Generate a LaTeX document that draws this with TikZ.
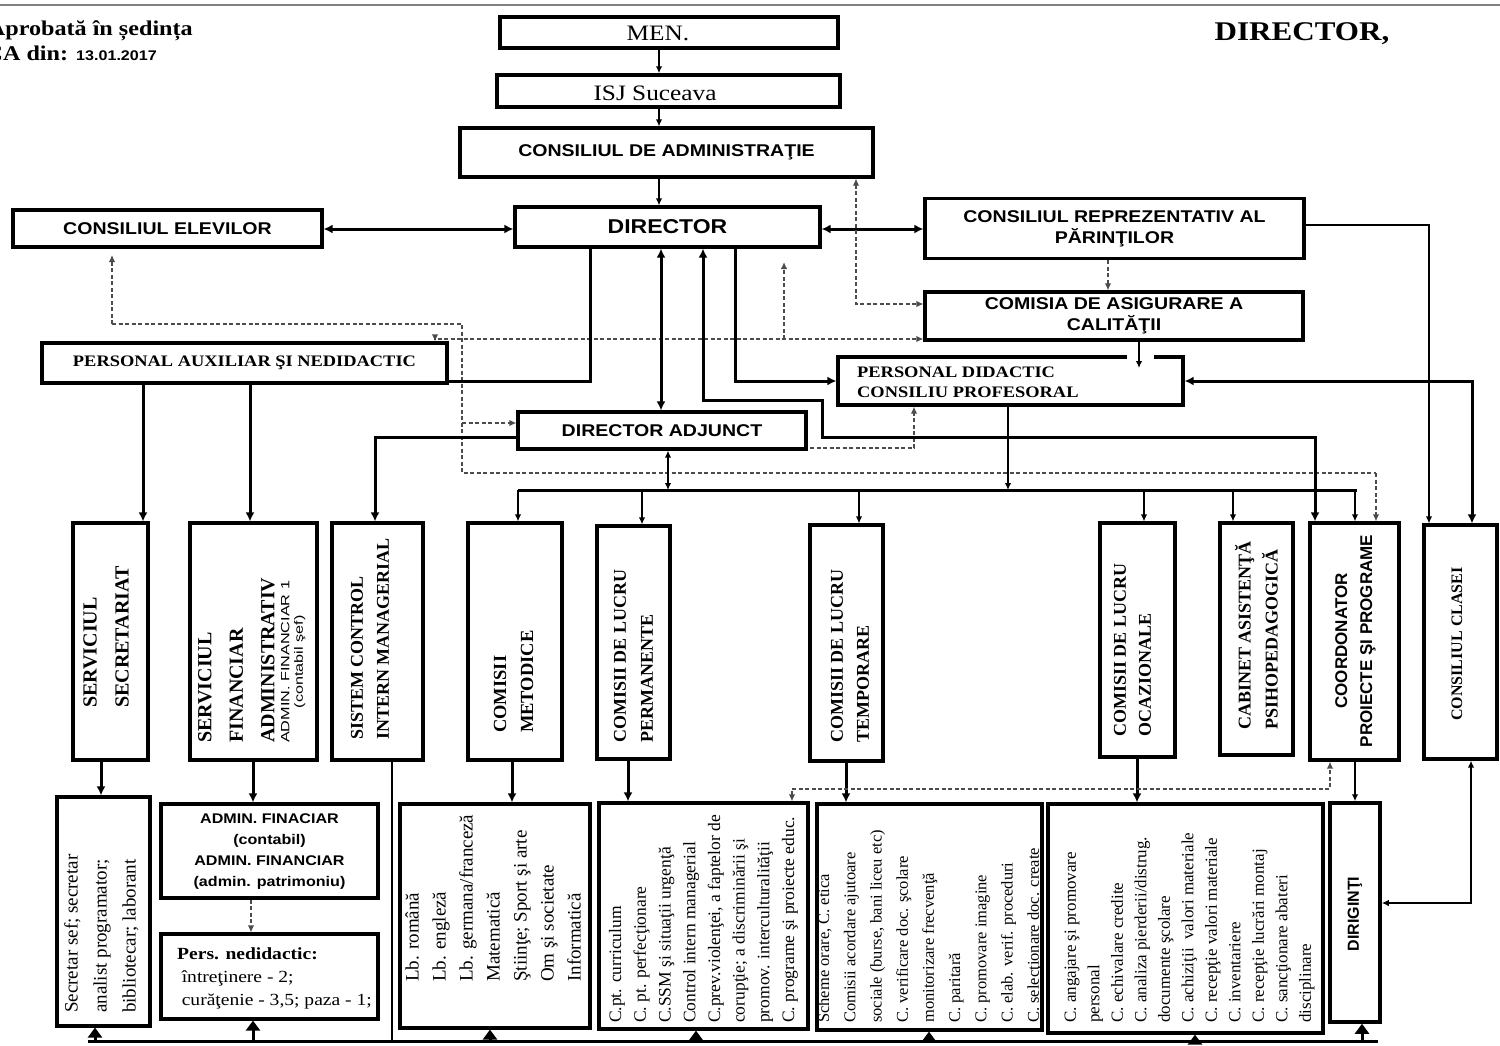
\documentclass[tikz,border=0pt]{standalone}
\usepackage{fontspec}
\setmainfont{Liberation Serif}
\setsansfont{Liberation Sans}
\usepackage{graphicx}
\usetikzlibrary{arrows.meta}
\newcommand\fs[2]{\fontsize{#1}{#2}\selectfont}
\newcommand\hs[2][c]{\scalebox{1.15}[1]{\begin{tabular}{@{}#1@{}}#2\end{tabular}}}
\newcommand\hsone[1]{\scalebox{1.15}[1]{#1}}
\tikzset{
 box/.style={draw, line width=3.2pt, inner sep=0pt, align=center},
 rot/.style={rotate=90, inner sep=0pt, align=left},
 thn/.style={line width=1.5pt, >={Latex[length=7pt,width=6.5pt]}},
 thk/.style={line width=3pt, >={Latex[length=9pt,width=9pt]}},
 dsh/.style={line width=1.5pt, black!70, dash pattern=on 4pt off 2.5pt, >={Latex[length=7pt,width=6.5pt]}},
 busline/.style={line width=3pt},
 uptri/.style={line width=3pt, -{Triangle[length=10pt,width=14pt]}},
 sb/.style={font=\sffamily\bfseries\fs{#1}{20}},
}
\begin{document}
\begin{tikzpicture}[x=1pt,y=-1pt]
\useasboundingbox (0,0) rectangle (1500,1045);
\fill[white] (0,0) rectangle (1500,1045);
\draw[gray, line width=2pt] (0,5) -- (1500,5);

% header texts
\node[anchor=base east, inner sep=0pt, font=\bfseries\fs{21}{24}] (apr) at (193,35) {\hsone{Aprobată în ședința}};
\node[anchor=base east, inner sep=0pt, font=\bfseries\fs{21}{24}] (cadin) at (157,60) {\hsone{CA din: {\sffamily\fs{14}{16}13.01.2017}}};
\node[inner sep=0pt, font=\bfseries\fs{27}{30}] (dirsig) at (1302,34) {\hsone{DIRECTOR,}};

% top chain
\node[box, line width=3.5pt, minimum width=338pt, minimum height=31pt] (men) at (669,32.5) {};
\node[inner sep=0pt, font=\fs{22}{24}] (mentxt) at (658,33) {\hsone{MEN.}};
\node[box, line width=3.5pt, minimum width=343pt, minimum height=32pt] (isj) at (668.5,91) {};
\node[inner sep=0pt, font=\fs{22}{24}] (isjtxt) at (655,93) {\hsone{ISJ Suceava}};
\node[box, minimum width=413pt, minimum height=49pt, sb=17] (ca) at (666.5,152.5) {\hsone{CONSILIUL DE ADMINISTRAŢIE}};
\node[box, minimum width=305pt, minimum height=40pt, sb=20] (dir) at (667.5,227) {\hsone{DIRECTOR}};
\node[box, minimum width=309pt, minimum height=37pt, sb=17] (ce) at (167.5,228.5) {\hsone{CONSILIUL ELEVILOR}};
\node[box, minimum width=379pt, minimum height=60pt, sb=17] (cr) at (1114.5,228.5) {\hs{CONSILIUL REPREZENTATIV AL\\PĂRINŢILOR}};
\node[box, minimum width=378pt, minimum height=48pt, font=\sffamily\bfseries\fs{17}{19}] (cac) at (1114,316) {\hs{COMISIA DE ASIGURARE A\\CALITĂŢII}};
\node[box, minimum width=405pt, minimum height=40pt, font=\bfseries\fs{16}{18}] (pan) at (244.5,363) {\hsone{PERSONAL AUXILIAR ŞI NEDIDACTIC}};
\node[box, minimum width=345pt, minimum height=48pt] (pd) at (1010.5,381) {};
\fill[white] (1127,351) rectangle (1154,361);
\node[anchor=west, inner sep=0pt, font=\bfseries\fs{16}{20}] (pdtxt) at (857,383) {\hs[l]{PERSONAL DIDACTIC\\CONSILIU PROFESORAL}};
\node[box, minimum width=288pt, minimum height=37pt, sb=17] (da) at (662,430.5) {\hsone{DIRECTOR ADJUNCT}};

% vertical boxes
\node[box, minimum width=75pt, minimum height=237pt] (ss) at (110.5,641.5) {};
\node[box, minimum width=127pt, minimum height=237pt] (sfa) at (253.5,641.5) {};
\node[box, minimum width=91pt, minimum height=237pt] (scim) at (377.5,641.5) {};
\node[box, minimum width=94pt, minimum height=237pt] (cm) at (515,641.5) {};
\node[box, minimum width=73pt, minimum height=233pt] (clp) at (633.5,642.5) {};
\node[box, minimum width=73pt, minimum height=236pt] (clt) at (846.5,643) {};
\node[box, minimum width=75pt, minimum height=234pt] (clo) at (1137.5,640) {};
\node[box, minimum width=73pt, minimum height=232pt] (cap) at (1256.5,639) {};
\node[box, minimum width=89pt, minimum height=237pt] (coord) at (1354.5,641.5) {};
\node[box, minimum width=73pt, minimum height=234pt] (cc) at (1460.5,642) {};

\node[rot, anchor=west, font=\bfseries\fs{20}{32}] (sstxt) at (106,708) {SERVICIUL\\SECRETARIAT};
\node[rot, anchor=west, font=\bfseries\fs{20}{31.5}] (sfatxt) at (236.5,743) {SERVICIUL\\FINANCIAR\\ADMINISTRATIV};
\node[rot, anchor=west, font=\sffamily\fs{12}{13.5}] (sfatxtb) at (293.5,743) {\scalebox{1.35}[1]{\begin{tabular}{@{}c@{}}ADMIN. FINANCIAR 1\\(contabil şef)\end{tabular}}};
\node[rot, anchor=west, font=\bfseries\fs{18}{26}] (scimtxt) at (370,740) {SISTEM CONTROL\\INTERN MANAGERIAL};
\node[rot, anchor=west, font=\bfseries\fs{18.5}{27}] (cmtxt) at (513.5,733) {COMISII\\METODICE};
\node[rot, anchor=west, font=\bfseries\fs{18}{27}] (clptxt) at (633.5,743) {COMISII DE LUCRU\\PERMANENTE};
\node[rot, anchor=west, font=\bfseries\fs{18}{26}] (clttxt) at (850,743) {COMISII DE LUCRU\\TEMPORARE};
\node[rot, anchor=west, font=\bfseries\fs{18}{25}] (clotxt) at (1132.5,737) {COMISII DE LUCRU\\OCAZIONALE};
\node[rot, anchor=west, font=\bfseries\fs{18}{27}] (captxt) at (1256.5,730) {CABINET ASISTENŢĂ\\PSIHOPEDAGOGICĂ};
\node[rot, align=center, font=\sffamily\bfseries\fs{17}{25}] (coordtxt) at (1355.5,641) {COORDONATOR\\PROIECTE ŞI PROGRAME};
\node[rot, font=\bfseries\fs{16}{18}] (cctxt) at (1457,644) {CONSILIUL CLASEI};

% bottom boxes
\node[box, minimum width=93pt, minimum height=229pt] (sec) at (103.5,911.5) {};
\node[box, minimum width=217pt, minimum height=94pt, font=\sffamily\bfseries\fs{14}{21}] (adm) at (269.5,851) {\hs{ADMIN. FINACIAR\\(contabil)\\ADMIN. FINANCIAR\\(admin. patrimoniu)}};
\node[box, minimum width=217pt, minimum height=85pt] (pers) at (269.5,976.5) {};
\node[anchor=west, inner sep=0pt, font=\fs{17}{23}] (perstxt) at (177,978) {\hs[l]{{\bfseries Pers. nedidactic:}\\\hspace*{4pt}întreţinere - 2;\\\hspace*{4pt}curăţenie - 3,5; paza - 1;}};
\node[box, minimum width=190pt, minimum height=224pt] (lb) at (495,916) {};
\node[box, minimum width=209pt, minimum height=226pt] (cpt) at (703.5,916) {};
\node[box, minimum width=225pt, minimum height=226pt] (ctmp) at (929.5,917) {};
\node[box, minimum width=275pt, minimum height=229pt] (cocz) at (1185.5,918.5) {};
\node[box, line width=3.5pt, minimum width=50pt, minimum height=219pt] (dirig) at (1355,912.5) {};

\node[rot, anchor=west, font=\fs{19}{29}] (sectxt) at (101.5,1013) {Secretar sef; secretar\\analist programator;\\bibliotecar; laborant};
\node[rot, anchor=west, font=\fs{19}{27}] (lbtxt) at (493,982) {Lb. română\\Lb. engleză\\Lb. germana/franceză\\Matematică\\Ştiinţe; Sport şi arte\\Om şi societate\\Informatică};
\node[rot, anchor=west, font=\fs{17.5}{24.7}] (cpttxt) at (703.5,1023) {C.pt. curriculum\\C. pt. perfecţionare\\C.SSM şi situaţii urgenţă\\Control intern managerial\\C.prev.violenţei, a faptelor de\\corupţie; a discriminării şi\\promov. interculturalităţii\\C. programe şi proiecte educ.};
\node[rot, anchor=west, font=\fs{16.5}{26.2}] (ctmptxt) at (930,1023) {Scheme orare, C. etica\\Comisii acordare ajutoare\\sociale (burse, bani liceu etc)\\C. verificare doc. şcolare\\monitorizare frecvenţă\\C. paritară\\C. promovare imagine\\C. elab. verif. proceduri\\C. selecţionare doc. create};
\node[rot, anchor=west, font=\fs{17}{23.5}] (con) at (1189.5,1023) {C. angajare şi promovare\\personal\\C. echivalare credite\\C. analiza pierderii/distrug.\\documente şcolare\\C. achiziţii\ \ valori materiale\\C. recepţie valori materiale\\C. inventariere\\C. recepţie lucrări montaj\\C. sancţionare abateri\\disciplinare};
\node[rot, font=\sffamily\bfseries\fs{16}{18}] (dirigtxt) at (1355,914) {DIRIGINŢI};

% connectors top
\draw[thn,->] (659,0 |- men.south) -- (659,0 |- isj.north);
\draw[thn,->] (659,0 |- isj.south) -- (659,0 |- ca.north);
\draw[thn,->] (659,0 |- ca.south) -- (659,0 |- dir.north);
\draw[thk,<->] (dir.west |- 0,229) -- (ce.east |- 0,229);
\draw[thk,<->] (dir.east |- 0,229) -- (cr.west |- 0,229);
\draw[dsh,<->] (856,0 |- ca.south) -- (856,304) -- (cac.west |- 0,304);
\draw[dsh,->] (1108,0 |- cr.south) -- (1108,0 |- cac.north);
\draw[thn,->] (1139,0 |- cac.south) -- (1139,368);
\draw[dsh,<->] (435,0 |- pan.north) -- (435,339) -- (cac.west |- 0,339);
\draw[dsh,->] (784,339) -- (784,262);
\draw[dsh,->] (112,324) -- (112,255);
\draw[dsh] (112,324) -- (462,324) -- (462,473) -- (1376,473);
\draw[dsh,->] (1376,473) -- (1376,0 |- coord.north);
\draw[dsh,->] (462,423) -- (da.west |- 0,423);
\draw[dsh,->] (810,448) -- (914,448) -- (914,0 |- pd.south);
\draw[thk] (590,0 |- dir.south) -- (590,381) -- (pan.east |- 0,381);
\draw[thk,<->] (661,0 |- dir.south) -- (661,0 |- da.north);
\draw[thk,<->] (703,0 |- dir.south) -- (703,400) -- (822,400) -- (822,437) -- (1315,437) -- (1315,0 |- coord.north);
\draw[thk,->] (735,0 |- dir.south) -- (735,381) -- (pd.west |- 0,381);
\draw[thn,->] (cr.east |- 0,225) -- (1429,225) -- (1429,0 |- cc.north);
\draw[thk,<->] (pd.east |- 0,381) -- (1472,381) -- (1472,0 |- cc.north);
\draw[thk,->] (da.west |- 0,437) -- (375,437) -- (375,0 |- scim.north);
\draw[thk,->] (143,0 |- pan.south) -- (143,0 |- ss.north);
\draw[thk,->] (250,0 |- pan.south) -- (250,0 |- sfa.north);

% middle bus
\draw[busline] (518,490) -- (1357,490);
\draw[thn,<->] (668,0 |- da.south) -- (668,490);
\draw[thn,->] (1008,0 |- pd.south) -- (1008,490);
\draw[thn,->] (518,490) -- (518,0 |- cm.north);
\draw[thn,->] (642,490) -- (642,0 |- clp.north);
\draw[thn,->] (859,490) -- (859,0 |- clt.north);
\draw[thn,->] (1144,490) -- (1144,0 |- clo.north);
\draw[thn,->] (1233,490) -- (1233,0 |- cap.north);
\draw[thn,->] (1355,490) -- (1355,0 |- coord.north);

% lower connectors
\draw[thk,->] (101,0 |- ss.south) -- (101,0 |- sec.north);
\draw[thk,->] (253,0 |- sfa.south) -- (253,0 |- adm.north);
\draw[dsh,->] (251,0 |- adm.south) -- (251,0 |- pers.north);
\draw[line width=2pt] (392,0 |- scim.south) -- (392,1041);
\draw[thk,->] (512,0 |- cm.south) -- (512,0 |- lb.north);
\draw[thk,->] (628,0 |- clp.south) -- (628,0 |- cpt.north);
\draw[thk,->] (846,0 |- clt.south) -- (846,0 |- ctmp.north);
\draw[thk,->] (1137,0 |- clo.south) -- (1137,0 |- cocz.north);
\draw[thn,->] (1355,0 |- coord.south) -- (1355,0 |- dirig.north);
\draw[dsh,<->] (792,0 |- cpt.north) -- (792,789) -- (1330,789) -- (1330,0 |- coord.south);
\draw[thn,<->] (dirig.east |- 0,903) -- (1471,903) -- (1471,0 |- cc.south);

% bottom bus
\draw[busline] (88,1041) -- (1378,1041);
\draw[uptri] (95,1041) -- (95,0 |- sec.south);
\draw[uptri] (253,1041) -- (253,0 |- pers.south);
\draw[uptri] (490,1041) -- (490,0 |- lb.south);
\draw[uptri] (696,1041) -- (696,0 |- cpt.south);
\draw[uptri] (929,1041) -- (929,0 |- ctmp.south);
\draw[uptri] (1195,1041) -- (1195,0 |- cocz.south);
\draw[uptri] (1362,1041) -- (1362,0 |- dirig.south);
\end{tikzpicture}
\end{document}
